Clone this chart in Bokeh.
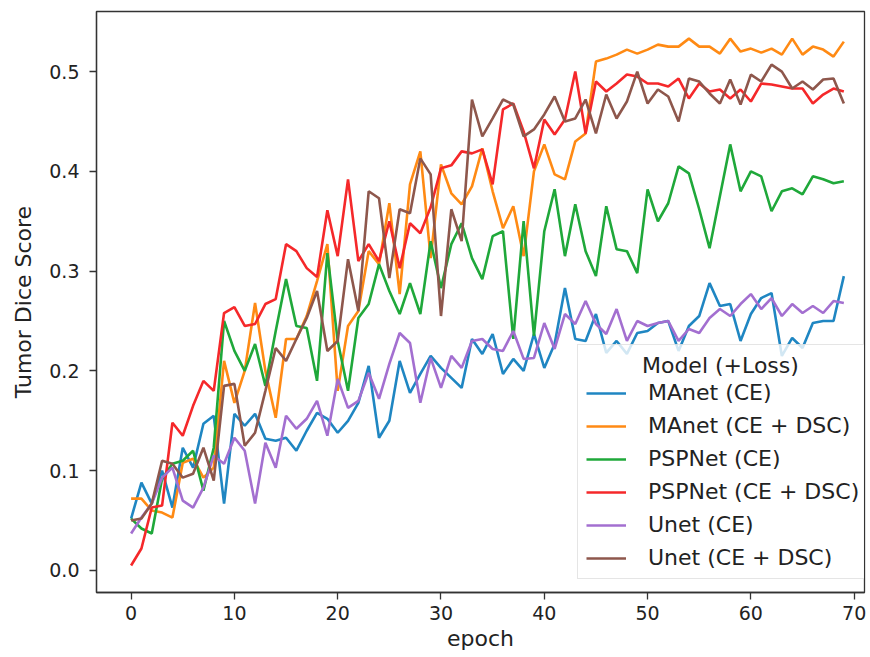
from bokeh.plotting import figure
from bokeh.models import Range1d, Legend, LegendItem, FixedTicker
from bokeh.embed import file_html
from bokeh.resources import INLINE

epochs = list(range(70))

manet_ce = [0.052, 0.088, 0.067, 0.100, 0.063, 0.123, 0.103, 0.147, 0.155, 0.067,
            0.157, 0.145, 0.157, 0.132, 0.130, 0.133, 0.120, 0.140, 0.158, 0.152,
            0.138, 0.150, 0.168, 0.205, 0.133, 0.150, 0.210, 0.178, 0.197, 0.215,
            0.203, 0.193, 0.183, 0.232, 0.217, 0.237, 0.197, 0.212, 0.200, 0.237,
            0.203, 0.227, 0.283, 0.232, 0.230, 0.257, 0.218, 0.230, 0.217, 0.238,
            0.240, 0.248, 0.250, 0.220, 0.245, 0.255, 0.288, 0.265, 0.267, 0.230,
            0.257, 0.273, 0.278, 0.215, 0.233, 0.223, 0.248, 0.250, 0.250, 0.295]

manet_ce_dsc = [0.072, 0.072, 0.060, 0.058, 0.053, 0.108, 0.112, 0.093, 0.103, 0.210,
                0.168, 0.200, 0.268, 0.200, 0.153, 0.232, 0.232, 0.255, 0.290, 0.327,
                0.180, 0.245, 0.260, 0.320, 0.307, 0.368, 0.277, 0.387, 0.420, 0.313,
                0.407, 0.378, 0.367, 0.385, 0.423, 0.380, 0.343, 0.365, 0.315, 0.400,
                0.427, 0.397, 0.392, 0.430, 0.438, 0.510, 0.513, 0.517, 0.522, 0.518,
                0.522, 0.527, 0.525, 0.525, 0.533, 0.525, 0.525, 0.518, 0.533, 0.520,
                0.523, 0.519, 0.523, 0.517, 0.533, 0.517, 0.525, 0.522, 0.515, 0.530]

pspnet_ce = [0.052, 0.042, 0.037, 0.092, 0.107, 0.110, 0.120, 0.080, 0.123, 0.250,
             0.220, 0.200, 0.227, 0.185, 0.240, 0.292, 0.245, 0.243, 0.190, 0.318,
             0.230, 0.180, 0.253, 0.267, 0.307, 0.280, 0.257, 0.288, 0.257, 0.330,
             0.283, 0.327, 0.348, 0.313, 0.292, 0.335, 0.340, 0.232, 0.350, 0.235,
             0.340, 0.382, 0.315, 0.367, 0.320, 0.295, 0.365, 0.322, 0.320, 0.298,
             0.382, 0.350, 0.368, 0.405, 0.398, 0.362, 0.323, 0.375, 0.427, 0.380,
             0.400, 0.395, 0.360, 0.380, 0.383, 0.377, 0.395, 0.392, 0.388, 0.390]

pspnet_ce_dsc = [0.005, 0.022, 0.063, 0.065, 0.148, 0.135, 0.165, 0.190, 0.180, 0.258,
                 0.264, 0.245, 0.247, 0.267, 0.272, 0.327, 0.320, 0.303, 0.294, 0.361,
                 0.315, 0.392, 0.310, 0.327, 0.310, 0.350, 0.303, 0.348, 0.338, 0.364,
                 0.403, 0.406, 0.420, 0.418, 0.422, 0.387, 0.462, 0.468, 0.440, 0.403,
                 0.452, 0.437, 0.452, 0.500, 0.438, 0.490, 0.480, 0.488, 0.497, 0.495,
                 0.488, 0.488, 0.485, 0.493, 0.473, 0.488, 0.480, 0.482, 0.473, 0.482,
                 0.470, 0.488, 0.487, 0.485, 0.483, 0.483, 0.468, 0.477, 0.483, 0.480]

unet_ce = [0.037, 0.053, 0.067, 0.093, 0.103, 0.070, 0.063, 0.083, 0.115, 0.107,
           0.133, 0.120, 0.067, 0.128, 0.103, 0.155, 0.142, 0.152, 0.170, 0.135,
           0.192, 0.163, 0.170, 0.198, 0.172, 0.207, 0.238, 0.228, 0.168, 0.213,
           0.183, 0.215, 0.203, 0.230, 0.232, 0.222, 0.220, 0.240, 0.212, 0.213,
           0.248, 0.222, 0.257, 0.247, 0.270, 0.247, 0.237, 0.262, 0.230, 0.250,
           0.245, 0.248, 0.250, 0.230, 0.242, 0.238, 0.253, 0.262, 0.255, 0.267,
           0.277, 0.262, 0.273, 0.255, 0.267, 0.258, 0.265, 0.258, 0.270, 0.268]

unet_ce_dsc = [0.050, 0.052, 0.067, 0.110, 0.107, 0.093, 0.097, 0.123, 0.090, 0.185,
               0.187, 0.125, 0.138, 0.180, 0.223, 0.210, 0.232, 0.253, 0.280, 0.220,
               0.230, 0.312, 0.260, 0.380, 0.373, 0.293, 0.362, 0.358, 0.413, 0.397,
               0.255, 0.362, 0.330, 0.472, 0.435, 0.453, 0.472, 0.467, 0.435, 0.442,
               0.457, 0.475, 0.450, 0.453, 0.472, 0.438, 0.477, 0.453, 0.470, 0.500,
               0.468, 0.482, 0.475, 0.450, 0.493, 0.490, 0.478, 0.468, 0.492, 0.467,
               0.497, 0.490, 0.507, 0.500, 0.483, 0.490, 0.482, 0.492, 0.493, 0.468]

labels = ["MAnet (CE)", "MAnet (CE + DSC)", "PSPNet (CE)",
          "PSPNet (CE + DSC)", "Unet (CE)", "Unet (CE + DSC)"]
series = [manet_ce, manet_ce_dsc, pspnet_ce, pspnet_ce_dsc, unet_ce, unet_ce_dsc]
colors = ["#1f86c2", "#ff8a14", "#1fa83a", "#f5282a", "#a36fd0", "#8e574c"]
legend_title = "Model (+Loss)"

x_ticks = [0, 10, 20, 30, 40, 50, 60, 70]
y_ticks = [0.0, 0.1, 0.2, 0.3, 0.4, 0.5]

FONT = "DejaVu Sans"
TICK_FS = "19px"
LAB_FS = "22px"

p = figure(width=866, height=656, output_backend="svg", toolbar_location=None,
           x_range=Range1d(-3.35, 71.0), y_range=Range1d(-0.0221, 0.5602),
           min_border_left=96, min_border_right=2, min_border_top=11, min_border_bottom=64)

p.grid.visible = False
p.outline_line_color = "#333333"
p.outline_line_width = 1.3
p.background_fill_color = "white"
p.border_fill_color = "white"

for ax in (p.xaxis[0], p.yaxis[0]):
    ax.major_label_text_font = FONT
    ax.major_label_text_font_size = TICK_FS
    ax.major_label_text_color = "#222222"
    ax.axis_label_text_font = FONT
    ax.axis_label_text_font_size = LAB_FS
    ax.axis_label_text_font_style = "normal"
    ax.axis_label_text_color = "#222222"
    ax.axis_line_color = "#333333"
    ax.axis_line_width = 1.3
    ax.major_tick_line_color = "#333333"
    ax.major_tick_line_width = 1.3
    ax.major_tick_out = 7
    ax.major_tick_in = 0
    ax.minor_tick_line_color = None

p.xaxis[0].ticker = FixedTicker(ticks=x_ticks)
p.yaxis[0].ticker = FixedTicker(ticks=y_ticks)
p.yaxis[0].major_label_overrides = {t: f"{t:.1f}" for t in y_ticks}
p.xaxis[0].major_label_standoff = 6
p.yaxis[0].major_label_standoff = 10
p.xaxis[0].axis_label = "epoch"
p.yaxis[0].axis_label = "Tumor Dice Score"
p.xaxis[0].axis_label_standoff = 3
p.yaxis[0].axis_label_standoff = 10

items = []
for lab, ys, c in zip(labels, series, colors):
    r = p.line(epochs, ys, line_color=c, line_width=2.6)
    items.append(LegendItem(label=lab, renderers=[r]))

legend = Legend(items=items, location=(481, 13), title="\u00a0" * 8 + legend_title,
                title_text_font=FONT, title_text_font_size=LAB_FS,
                title_text_font_style="normal", title_text_color="#222222",
                label_text_font=FONT, label_text_font_size=LAB_FS, label_text_color="#222222",
                glyph_width=40, glyph_height=24, label_height=24, label_width=210,
                label_standoff=22, spacing=8, padding=8, title_standoff=2,
                border_line_color="#cccccc", border_line_width=1,
                background_fill_color="white", background_fill_alpha=0.8)
p.add_layout(legend)

open("out.html", "w").write(file_html(p, INLINE))
